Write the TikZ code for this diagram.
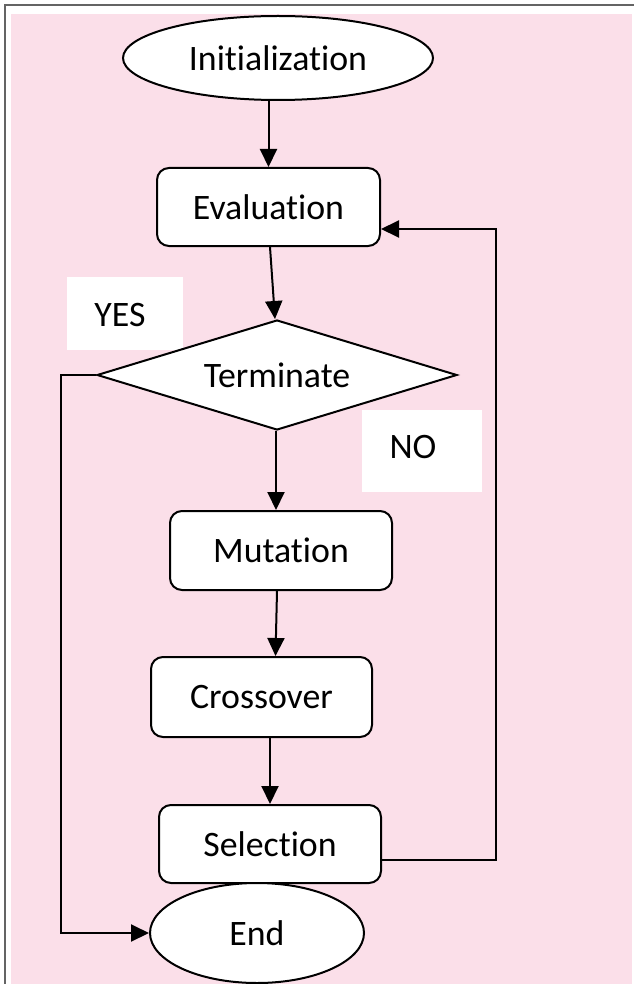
\documentclass[tikz,border=0pt]{standalone}
\usepackage{fontspec}
\setmainfont{Carlito}[Ligatures=NoCommon]
\usetikzlibrary{shapes.geometric,arrows.meta}
\definecolor{bgpink}{RGB}{251,223,233}
\definecolor{framegray}{RGB}{100,100,100}
\tikzset{
  lbl/.style={font=\fontsize{35.8pt}{40pt}\selectfont, text=black},
  procbox/.style={lbl, draw=black, line width=2pt, fill=white, rounded corners=12pt, inner sep=0pt},
  termbox/.style={lbl, draw=black, line width=2pt, fill=white, ellipse, inner sep=0pt},
  decbox/.style={draw=black, line width=2pt, fill=white, diamond, inner sep=0pt},
  tagbox/.style={fill=white, inner sep=0pt},
  arr/.style={draw=black, line width=2pt, -{Triangle[length=18pt,width=17pt]}},
  conn/.style={draw=black, line width=2pt}
}
\begin{document}
\begin{tikzpicture}[x=1pt,y=-1pt]
\useasboundingbox (0,0) rectangle (633,984);
\fill[white] (0,0) rectangle (633,984);
\draw[framegray, line width=2.5pt] (5,995) -- (5,5) -- (645,5);
\fill[bgpink] (11,14) rectangle (632,990);
% tags
\node[tagbox, minimum width=116pt, minimum height=73pt] (yesbox) at (125,313.5) {};
\node[lbl] (yes) at (120,315) {YES};
\node[tagbox, minimum width=120pt, minimum height=82pt] (nobox) at (422,451) {};
\node[lbl] (no) at (413,447) {NO};
% nodes
\node[termbox, minimum width=310pt, minimum height=84pt] (init) at (278,58) {Initialization};
\node[procbox, minimum width=223pt, minimum height=78pt] (eval) at (268.5,207) {Evaluation};
\node[decbox, minimum width=360pt, minimum height=110pt] (term) at (277,375) {};
\node[lbl] (termtext) at (term.center) {Terminate};
\node[procbox, minimum width=222pt, minimum height=79pt] (mut) at (281,550.5) {Mutation};
\node[procbox, minimum width=221pt, minimum height=80pt] (cross) at (261.5,697) {Crossover};
\node[procbox, minimum width=222pt, minimum height=78pt] (sel) at (270,844) {Selection};
\node[termbox, minimum width=214pt, minimum height=100pt] (end) at (257,933) {End};
% connectors
\draw[arr] (eval.north |- init.south) -- (eval.north);
\draw[arr] ([xshift=1.5pt]eval.south) -- ([xshift=-2pt]term.north);
\draw[arr] ([xshift=-1pt]term.south) -- ([xshift=-1pt]term.south |- mut.north);
\draw[arr] ([xshift=-4pt]mut.south) -- ([xshift=14pt]cross.north);
\draw[arr] (sel.north |- cross.south) -- (sel.north);
\coordinate (loopc) at (496,229);
\draw[arr] (sel.east |- 0,860) -| (loopc) -- (eval.east |- loopc);
\coordinate (yesc) at (61,370);
\draw[arr] (term.west) -- (term.west -| yesc) |- (end.west);
\end{tikzpicture}
\end{document}
